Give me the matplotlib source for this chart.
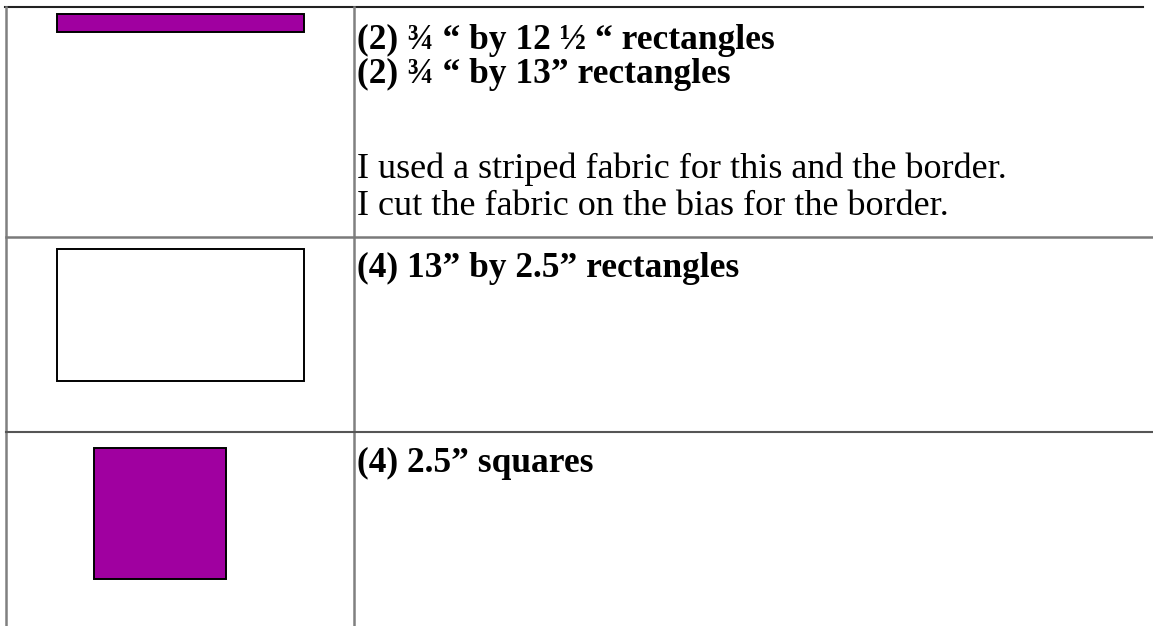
import matplotlib.pyplot as plt
from matplotlib.patches import Rectangle

# -------------------------
# DATA
# -------------------------
bold_lines = [
    "(2) \u00be \u201c by 12 \u00bd \u201c rectangles",
    "(2) \u00be \u201c by 13\u201d rectangles",
]
note_lines = [
    "I used a striped fabric for this and the border.",
    "I cut the fabric on the bias for the border.",
]
row2_label = "(4) 13\u201d by 2.5\u201d rectangles"
row3_label = "(4) 2.5\u201d squares"

# shape swatches: (x, y, width, height, fill)
swatches = [
    (57, 14, 247, 18, "#a000a0"),
    (57, 249, 247, 132, "white"),
    (94, 448, 132, 131, "#a000a0"),
]

W, H = 1153, 626
fig = plt.figure(figsize=(W / 100, H / 100), dpi=100)
ax = fig.add_axes([0, 0, 1, 1])
ax.set_xlim(0, W)
ax.set_ylim(H, 0)
ax.axis("off")

# table lines
ax.plot([5, 1143], [7, 7], color="#222222", lw=1.5)
ax.plot([6, 6], [7, H], color="#808080", lw=1.8)
ax.plot([354, 354], [7, H], color="#808080", lw=1.8)
ax.plot([6, W], [236.5, 236.5], color="#7a7a7a", lw=1.8)
ax.plot([6, W], [431.5, 431.5], color="#555555", lw=1.5)

for x, y, w, h, c in swatches:
    ax.add_patch(Rectangle((x, y), w, h, facecolor=c, edgecolor="black", lw=1.4))

serif = ["Liberation Serif", "DejaVu Serif"]
tx = 357
bold_size = 25.5
note_size = 26
for i, s in enumerate(bold_lines):
    ax.text(tx, 49 + 34 * i, s, family=serif, weight="bold", fontsize=bold_size,
            va="baseline", ha="left")
for i, s in enumerate(note_lines):
    ax.text(tx, 178 + 37 * i, s, family=serif, fontsize=note_size,
            va="baseline", ha="left")
ax.text(tx, 277, row2_label, family=serif, weight="bold", fontsize=bold_size,
        va="baseline", ha="left")
ax.text(tx, 472, row3_label, family=serif, weight="bold", fontsize=bold_size,
        va="baseline", ha="left")

fig.savefig("out.png", dpi=100)
